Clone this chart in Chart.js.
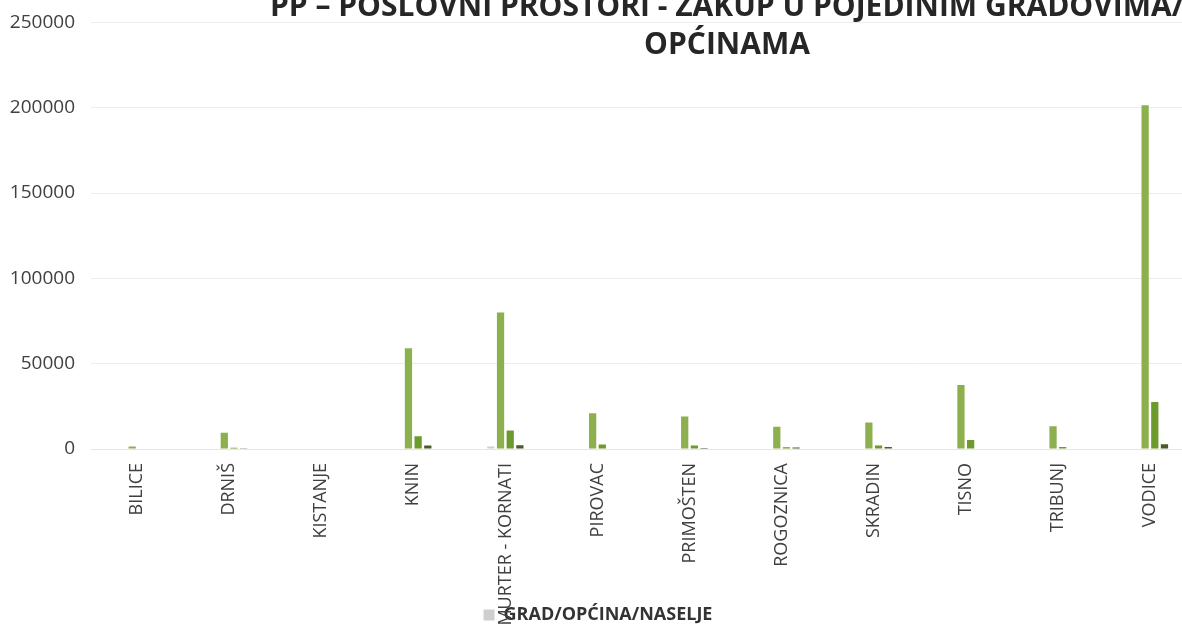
<!DOCTYPE html>
<html>
<head>
<meta charset="utf-8">
<script src="https://cdn.jsdelivr.net/npm/chart.js@4/dist/chart.umd.min.js"></script>
<style>
  html, body { margin: 0; padding: 0; background: #fff; overflow: hidden; }
  #wrap { position: relative; width: 1182px; height: 626px; overflow: hidden; }
  #box { position: absolute; left: 0; top: -5px; width: 1200px; height: 639px; }
  #title {
    position: absolute; left: 0; top: -14px; width: 1454px;
    text-align: center; white-space: nowrap;
    font: bold 30px/38px "Open Sans", sans-serif; color: #262626;
    pointer-events: none;
  }
</style>
</head>
<body>
<div id="wrap">
  <div id="box"><canvas id="c"></canvas></div>
  <div id="title">PP – POSLOVNI PROSTORI - ZAKUP U POJEDINIM GRADOVIMA/<br>OPĆINAMA</div>
</div>
<script>
const categories = ["BILICE", "DRNIŠ", "KISTANJE", "KNIN", "MURTER - KORNATI", "PIROVAC",
  "PRIMOŠTEN", "ROGOZNICA", "SKRADIN", "TISNO", "TRIBUNJ", "VODICE"];
const gradValues = [0, 0, 0, 300, 1500, 0, 0, 0, 0, 0, 0, 0];
const niz1 = [1500, 9500, 300, 59000, 80000, 21000, 19000, 13000, 15500, 37500, 13300, 201500];
const niz2 = [300, 800, 0, 7500, 10800, 2700, 2000, 1000, 2000, 5300, 1200, 27500];
const niz3 = [0, 200, 0, 2000, 2200, 300, 600, 900, 1200, 300, 300, 2800];
const yTicks = [0, 50000, 100000, 150000, 200000, 250000];

const font = "'Open Sans', sans-serif";

// long category names run past the axis box in the original, so don't clip them
const noLabelClip = {
  id: "noLabelClip",
  beforeDraw(chart) {
    chart.scales.x._computeLabelArea = () => undefined;
  },
};

new Chart(document.getElementById("c"), {
  type: "bar",
  data: {
    labels: categories,
    datasets: [
      { label: "GRAD/OPĆINA/NASELJE", data: gradValues, backgroundColor: "#cfcfcf" },
      { label: "Niz 1", data: niz1, backgroundColor: "#8db04e" },
      { label: "Niz 2", data: niz2, backgroundColor: "#6c9a2c" },
      { label: "Niz 3", data: niz3, backgroundColor: "#4a5a2a" },
    ],
  },
  options: {
    responsive: true,
    maintainAspectRatio: false,
    animation: false,
    datasets: { bar: { categoryPercentage: 0.42, barPercentage: 0.75 } },
    layout: { padding: { left: 0, right: 4, top: 0, bottom: 0 } },
    scales: {
      x: {
        grid: { display: false },
        border: { color: "#e6e6e6" },
        ticks: {
          color: "#404040", font: { family: font, size: 18 },
          minRotation: 90, maxRotation: 90, autoSkip: false, padding: 6,
        },
        afterFit: (s) => { s.height = 149; },
      },
      y: {
        min: 0, max: 250000,
        afterBuildTicks: (s) => { s.ticks = yTicks.map((v) => ({ value: v })); },
        grid: { color: "#ececec", drawTicks: false },
        border: { display: false },
        ticks: {
          color: "#404040", font: { family: font, size: 19 }, padding: 16,
          callback: (v) => String(v),
        },
        afterFit: (s) => { s.width = 91; },
      },
    },
    plugins: {
      legend: {
        position: "bottom",
        labels: {
          filter: (item) => item.datasetIndex === 0,
          boxWidth: 11, boxHeight: 11, padding: 8,
          color: "#333", font: { family: font, size: 18, weight: "bold" },
        },
      },
      tooltip: { enabled: false },
    },
  },
  plugins: [noLabelClip],
});
</script>
</body>
</html>
